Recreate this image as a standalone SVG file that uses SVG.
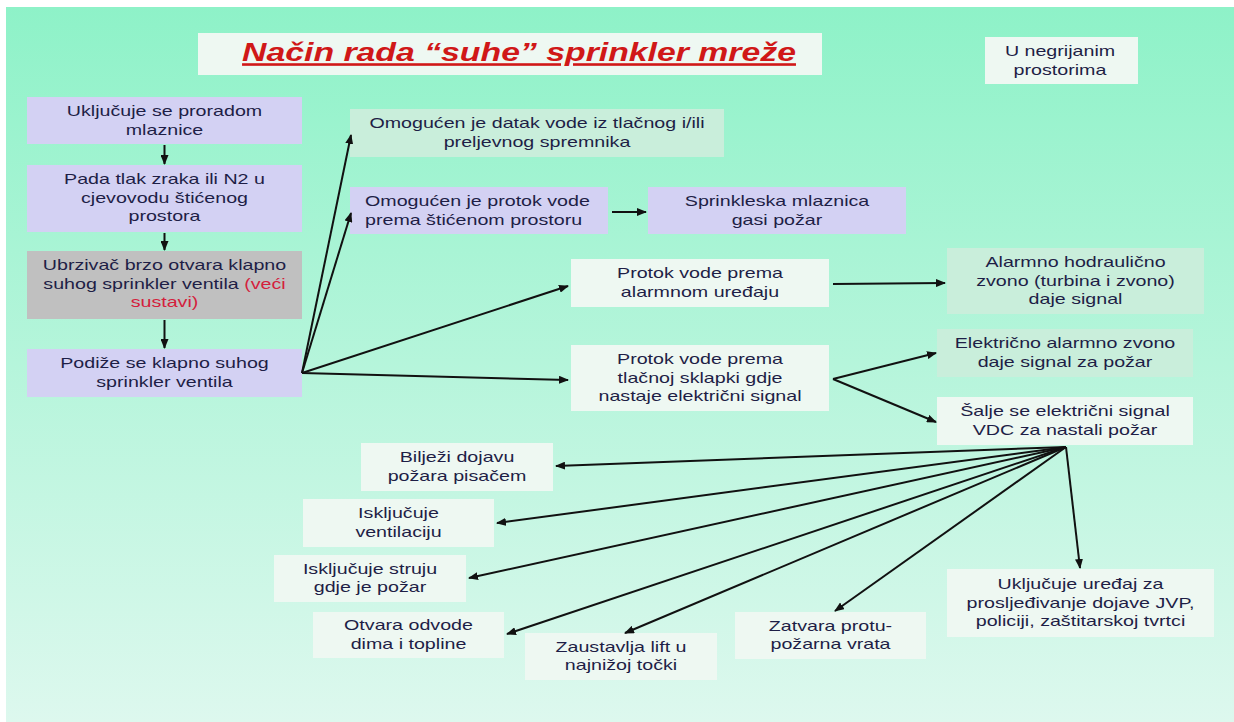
<svg xmlns="http://www.w3.org/2000/svg" width="1234" height="722" viewBox="0 0 1234 722">
<defs>
<linearGradient id="bg" x1="0" y1="0" x2="0" y2="1">
<stop offset="0" stop-color="#8ef2c8"/>
<stop offset="1" stop-color="#ddf8ee"/>
</linearGradient>
<marker id="ah" markerWidth="10" markerHeight="8" refX="9" refY="4" orient="auto" markerUnits="userSpaceOnUse">
<path d="M0,0 L10,4 L0,8 Z" fill="#111"/>
</marker>
<style>
.t{font-family:"Liberation Sans",Arial,sans-serif;font-size:15px;fill:#1e1e46;text-anchor:middle}
.s{text-anchor:start}
.r{fill:#d4203c}
.lav{fill:#d3d1f3}
.gry{fill:#c0c0c0}
.mnt{fill:#c9eedb}
.pal{fill:#eef8f2}
.c line{stroke:#111;stroke-width:2;marker-end:url(#ah)}
</style>
</defs>
<rect x="0" y="0" width="1234" height="722" fill="#fff"/>
<rect x="6" y="7" width="1228" height="715" fill="url(#bg)"/>

<g id="title">
<rect class="pal" x="198" y="33" width="624" height="42"/>
<text x="0" y="61.5" transform="matrix(1.3 0 0 1 519 0)" style="font-family:'Liberation Sans',Arial,sans-serif;font-size:26px;font-weight:bold;font-style:italic;fill:#d01818;text-anchor:middle;text-decoration:underline">Način rada “suhe” sprinkler mreže</text>
</g>

<g id="n_negrijani">
<rect class="pal" x="985" y="37" width="153" height="47"/>
<text class="t" transform="matrix(1.31 0 0 1 1060 0)"><tspan x="0" y="56.5">U negrijanim</tspan><tspan x="0" y="75">prostorima</tspan></text>
</g>

<g id="n1">
<rect class="lav" x="27" y="97" width="275" height="47"/>
<text class="t" transform="matrix(1.31 0 0 1 164.5 0)"><tspan x="0" y="116.5">Uključuje se proradom</tspan><tspan x="0" y="135">mlaznice</tspan></text>
</g>
<g id="n2">
<rect class="lav" x="27" y="165" width="275" height="67"/>
<text class="t" transform="matrix(1.31 0 0 1 164.5 0)"><tspan x="0" y="184.5">Pada tlak zraka ili N2 u</tspan><tspan x="0" y="203">cjevovodu štićenog</tspan><tspan x="0" y="221.5">prostora</tspan></text>
</g>
<g id="n3">
<rect class="gry" x="27" y="251" width="275" height="68"/>
<text class="t" transform="matrix(1.31 0 0 1 164.5 0)"><tspan x="0" y="270.5">Ubrzivač brzo otvara klapno</tspan><tspan x="0" y="289">suhog sprinkler ventila <tspan class="r">(veći</tspan></tspan><tspan x="0" y="307.5" class="r">sustavi)</tspan></text>
</g>
<g id="n4">
<rect class="lav" x="27" y="349" width="275" height="48"/>
<text class="t" transform="matrix(1.31 0 0 1 164.5 0)"><tspan x="0" y="368.5">Podiže se klapno suhog</tspan><tspan x="0" y="387">sprinkler ventila</tspan></text>
</g>

<g id="n_datak">
<rect class="mnt" x="350" y="109" width="374" height="48"/>
<text class="t" transform="matrix(1.31 0 0 1 537 0)"><tspan x="0" y="128.5">Omogućen je datak vode iz tlačnog i/ili</tspan><tspan x="0" y="147">preljevnog spremnika</tspan></text>
</g>
<g id="n_protok">
<rect class="lav" x="350" y="187" width="258" height="47"/>
<text class="t s" transform="matrix(1.31 0 0 1 365 0)"><tspan x="0" y="206.5">Omogućen je protok vode</tspan><tspan x="0" y="225">prema štićenom prostoru</tspan></text>
</g>
<g id="n_mlaznica">
<rect class="lav" x="648" y="187" width="258" height="47"/>
<text class="t" transform="matrix(1.31 0 0 1 777 0)"><tspan x="0" y="206.5">Sprinkleska mlaznica</tspan><tspan x="0" y="225">gasi požar</tspan></text>
</g>
<g id="n_alarmni">
<rect class="pal" x="571" y="259" width="258" height="48"/>
<text class="t" transform="matrix(1.31 0 0 1 700 0)"><tspan x="0" y="278.5">Protok vode prema</tspan><tspan x="0" y="297">alarmnom uređaju</tspan></text>
</g>
<g id="n_zvono">
<rect class="mnt" x="947" y="248" width="257" height="66"/>
<text class="t" transform="matrix(1.31 0 0 1 1075.5 0)"><tspan x="0" y="267.5">Alarmno hodraulično</tspan><tspan x="0" y="286">zvono (turbina i zvono)</tspan><tspan x="0" y="304.5">daje signal</tspan></text>
</g>
<g id="n_sklopka">
<rect class="pal" x="571" y="345" width="258" height="66"/>
<text class="t" transform="matrix(1.31 0 0 1 700 0)"><tspan x="0" y="364.5">Protok vode prema</tspan><tspan x="0" y="383">tlačnoj sklapki  gdje</tspan><tspan x="0" y="401.5">nastaje električni signal</tspan></text>
</g>
<g id="n_elzvono">
<rect class="mnt" x="937" y="329" width="256" height="48"/>
<text class="t" transform="matrix(1.31 0 0 1 1065 0)"><tspan x="0" y="348.5">Električno alarmno zvono</tspan><tspan x="0" y="367">daje signal  za požar</tspan></text>
</g>
<g id="n_vdc">
<rect class="pal" x="937" y="397" width="256" height="48"/>
<text class="t" transform="matrix(1.31 0 0 1 1065 0)"><tspan x="0" y="416.5">Šalje se električni signal</tspan><tspan x="0" y="435">VDC za nastali  požar</tspan></text>
</g>

<g id="n_pisac">
<rect class="pal" x="361" y="443" width="192" height="48"/>
<text class="t" transform="matrix(1.31 0 0 1 457 0)"><tspan x="0" y="462.5">Bilježi dojavu</tspan><tspan x="0" y="481">požara pisačem</tspan></text>
</g>
<g id="n_vent">
<rect class="pal" x="303" y="499" width="191" height="48"/>
<text class="t" transform="matrix(1.31 0 0 1 398.5 0)"><tspan x="0" y="518.5">Isključuje</tspan><tspan x="0" y="537">ventilaciju</tspan></text>
</g>
<g id="n_struja">
<rect class="pal" x="274" y="555" width="192" height="47"/>
<text class="t" transform="matrix(1.31 0 0 1 370 0)"><tspan x="0" y="574">Isključuje struju</tspan><tspan x="0" y="592.5">gdje je požar</tspan></text>
</g>
<g id="n_dim">
<rect class="pal" x="313" y="612" width="191" height="46"/>
<text class="t" transform="matrix(1.31 0 0 1 408.5 0)"><tspan x="0" y="630.5">Otvara odvode</tspan><tspan x="0" y="649">dima i topline</tspan></text>
</g>
<g id="n_lift">
<rect class="pal" x="525" y="633" width="192" height="47"/>
<text class="t" transform="matrix(1.31 0 0 1 621 0)"><tspan x="0" y="652">Zaustavlja lift u</tspan><tspan x="0" y="670.5">najnižoj točki</tspan></text>
</g>
<g id="n_vrata">
<rect class="pal" x="735" y="612" width="191" height="47"/>
<text class="t" transform="matrix(1.31 0 0 1 830.5 0)"><tspan x="0" y="631">Zatvara protu-</tspan><tspan x="0" y="649.5">požarna vrata</tspan></text>
</g>
<g id="n_jvp">
<rect class="pal" x="947" y="569" width="267" height="68"/>
<text class="t" transform="matrix(1.31 0 0 1 1080.5 0)"><tspan x="0" y="589.5">Uključuje uređaj  za</tspan><tspan x="0" y="608">prosljeđivanje dojave  JVP,</tspan><tspan x="0" y="626.5">policiji, zaštitarskoj tvrtci</tspan></text>
</g>

<g id="connectors" class="c">
<line x1="164.5" y1="145" x2="164.5" y2="164"/>
<line x1="164.5" y1="233" x2="164.5" y2="250"/>
<line x1="164.5" y1="320" x2="164.5" y2="348"/>
<line x1="302" y1="373" x2="351" y2="135"/>
<line x1="302" y1="373" x2="351" y2="213"/>
<line x1="302" y1="373" x2="568" y2="286"/>
<line x1="302" y1="373" x2="568" y2="380"/>
<line x1="612" y1="212" x2="646" y2="212"/>
<line x1="833" y1="284" x2="945" y2="283"/>
<line x1="833" y1="379" x2="936" y2="353"/>
<line x1="833" y1="379" x2="936" y2="422"/>
<line x1="1066" y1="447" x2="556" y2="466"/>
<line x1="1066" y1="447" x2="497" y2="523"/>
<line x1="1066" y1="447" x2="469" y2="578"/>
<line x1="1066" y1="447" x2="507" y2="634"/>
<line x1="1066" y1="447" x2="625" y2="633"/>
<line x1="1066" y1="447" x2="835" y2="611"/>
<line x1="1066" y1="447" x2="1080" y2="568"/>
</g>
</svg>
